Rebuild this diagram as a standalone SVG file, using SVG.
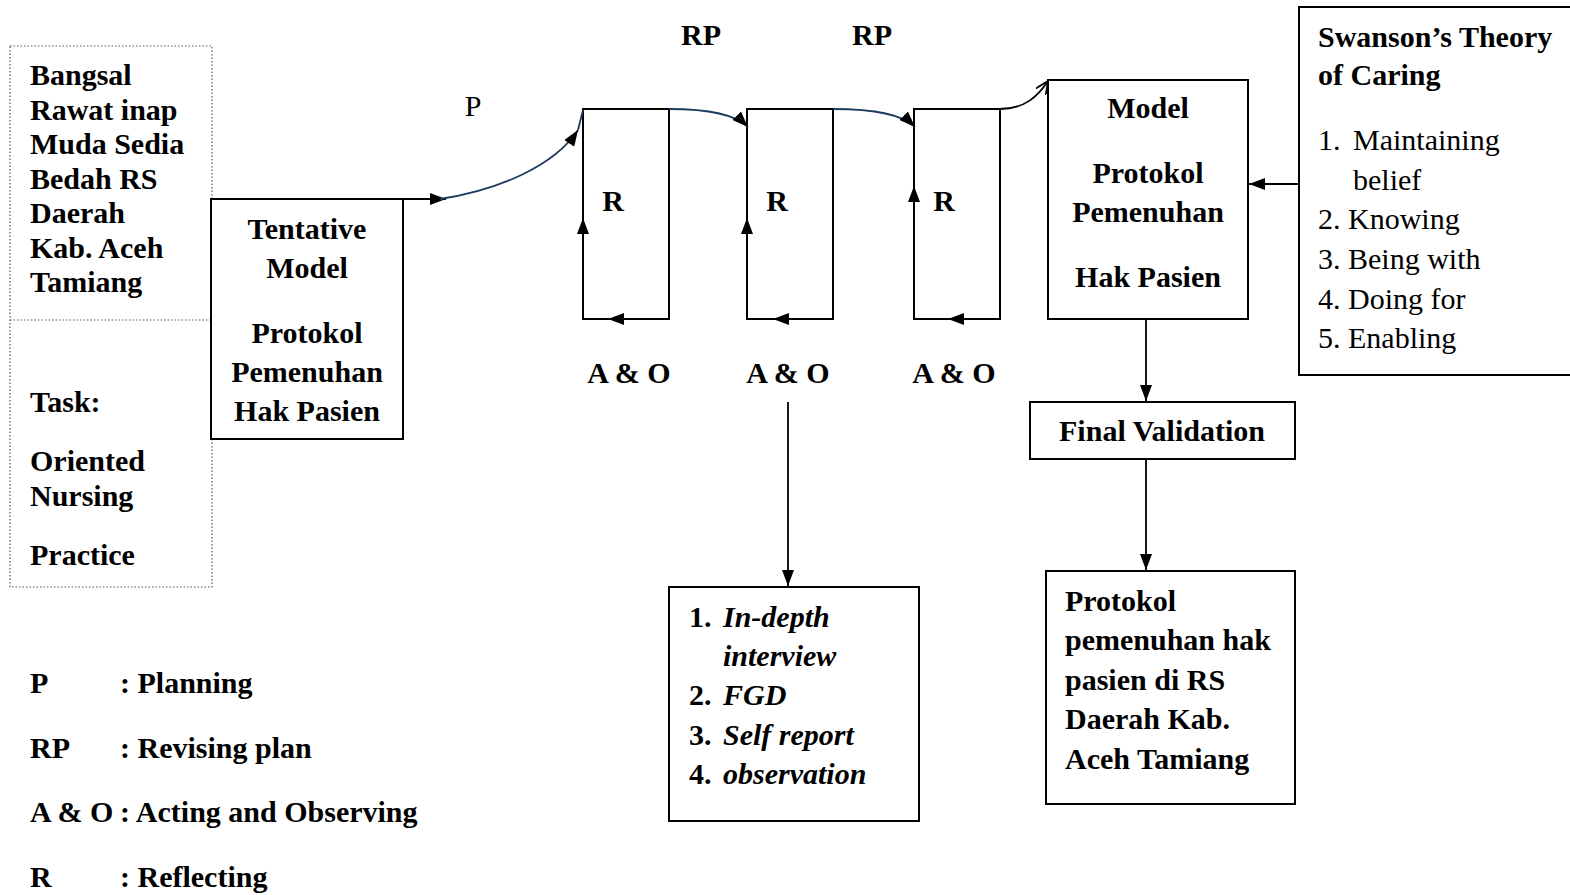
<svg xmlns="http://www.w3.org/2000/svg" width="1570" height="895" viewBox="0 0 1570 895">
<defs>
<style>
text{font-family:"Liberation Serif","Times New Roman",serif;font-size:30px;fill:#000}
.b{font-weight:bold}
.bi{font-weight:bold;font-style:italic}
.m{text-anchor:middle}
.box{fill:#fff;stroke:#000;stroke-width:2}
.dot{fill:none;stroke:#555;stroke-width:1.2;stroke-dasharray:1.5 2}
.ln{fill:none;stroke:#000;stroke-width:1.8}
.cv{fill:none;stroke:#1f3a60;stroke-width:1.8}
</style>
<marker id="fa" viewBox="0 0 16 12" refX="16" refY="6" markerWidth="16" markerHeight="12" markerUnits="userSpaceOnUse" orient="auto">
<path d="M0,0 L16,6 L0,12 Z" fill="#000"/>
</marker>
<marker id="oa" viewBox="0 0 14 12" refX="13" refY="6" markerWidth="14" markerHeight="12" markerUnits="userSpaceOnUse" orient="auto">
<path d="M0,0 L13,6 L0,12" fill="none" stroke="#000" stroke-width="1.8"/>
</marker>
</defs>
<rect width="1570" height="895" fill="#fff"/>

<g id="setting">
<rect class="dot" x="10" y="46" width="202" height="541"/>
<line class="dot" x1="10" y1="320" x2="212" y2="320"/>
<text class="b" x="30" y="85">Bangsal</text>
<text class="b" x="30" y="120">Rawat inap</text>
<text class="b" x="30" y="154">Muda Sedia</text>
<text class="b" x="30" y="189">Bedah RS</text>
<text class="b" x="30" y="223">Daerah</text>
<text class="b" x="30" y="258">Kab. Aceh</text>
<text class="b" x="30" y="292">Tamiang</text>
<text class="b" x="30" y="412">Task:</text>
<text class="b" x="30" y="471">Oriented</text>
<text class="b" x="30" y="506">Nursing</text>
<text class="b" x="30" y="565">Practice</text>
</g>

<g id="tentative">
<rect class="box" x="211" y="199" width="192" height="240"/>
<text class="b m" x="307" y="239">Tentative</text>
<text class="b m" x="307" y="278">Model</text>
<text class="b m" x="307" y="343">Protokol</text>
<text class="b m" x="307" y="382">Pemenuhan</text>
<text class="b m" x="307" y="421">Hak Pasien</text>
</g>

<g id="labels">
<text class="m" x="473" y="116">P</text>
<text class="b m" x="701" y="45">RP</text>
<text class="b m" x="872" y="45">RP</text>
</g>

<g id="cycle1">
<rect class="box" x="583" y="109" width="86" height="210"/>
<text class="b m" x="613" y="211">R</text>
<text class="b m" x="629" y="383">A &amp; O</text>
</g>
<g id="cycle2">
<rect class="box" x="747" y="109" width="86" height="210"/>
<text class="b m" x="777" y="211">R</text>
<text class="b m" x="788" y="383">A &amp; O</text>
</g>
<g id="cycle3">
<rect class="box" x="914" y="109" width="86" height="210"/>
<text class="b m" x="944" y="211">R</text>
<text class="b m" x="954" y="383">A &amp; O</text>
</g>

<g id="model">
<rect class="box" x="1048" y="80" width="200" height="239"/>
<text class="b m" x="1148" y="118">Model</text>
<text class="b m" x="1148" y="183">Protokol</text>
<text class="b m" x="1148" y="222">Pemenuhan</text>
<text class="b m" x="1148" y="287">Hak Pasien</text>
</g>

<g id="swanson">
<rect class="box" x="1299" y="7" width="275" height="368"/>
<text class="b" x="1318" y="47">Swanson’s Theory</text>
<text class="b" x="1318" y="85">of Caring</text>
<text x="1318" y="150">1.</text>
<text x="1353" y="150">Maintaining</text>
<text x="1353" y="190">belief</text>
<text x="1318" y="229">2. Knowing</text>
<text x="1318" y="269">3. Being with</text>
<text x="1318" y="309">4. Doing for</text>
<text x="1318" y="348">5. Enabling</text>
</g>

<g id="final-validation">
<rect class="box" x="1030" y="402" width="265" height="57"/>
<text class="b m" x="1162" y="441">Final Validation</text>
</g>

<g id="protokol">
<rect class="box" x="1046" y="571" width="249" height="233"/>
<text class="b" x="1065" y="611">Protokol</text>
<text class="b" x="1065" y="650">pemenuhan hak</text>
<text class="b" x="1065" y="690">pasien di RS</text>
<text class="b" x="1065" y="729">Daerah Kab.</text>
<text class="b" x="1065" y="769">Aceh Tamiang</text>
</g>

<g id="methods">
<rect class="box" x="669" y="587" width="250" height="234"/>
<text class="b" x="689" y="627">1.</text>
<text class="bi" x="723" y="627">In-depth</text>
<text class="bi" x="723" y="666">interview</text>
<text class="b" x="689" y="705">2.</text>
<text class="bi" x="723" y="705">FGD</text>
<text class="b" x="689" y="745">3.</text>
<text class="bi" x="723" y="745">Self report</text>
<text class="b" x="689" y="784">4.</text>
<text class="bi" x="723" y="784">observation</text>
</g>

<g id="legend">
<text class="b" x="30" y="693">P</text>
<text class="b" x="120" y="693">: Planning</text>
<text class="b" x="30" y="758">RP</text>
<text class="b" x="120" y="758">: Revising plan</text>
<text class="b" x="30" y="822">A &amp; O</text>
<text class="b" x="120" y="822">: Acting and Observing</text>
<text class="b" x="30" y="887">R</text>
<text class="b" x="120" y="887">: Reflecting</text>
</g>

<g id="connectors">
<path class="ln" d="M403,199 L446,199" marker-end="url(#fa)"/>
<path class="cv" d="M440,199 C500,190 555,165 578,130" marker-end="url(#fa)"/>
<path class="cv" d="M578,130 L583,110"/>
<path class="cv" d="M669,109 C700,109 733,112 748,127" marker-end="url(#fa)"/>
<path class="cv" d="M833,109 C866,109 900,112 915,127" marker-end="url(#fa)"/>
<path class="ln" d="M1000,109 C1025,109 1038,96 1048,81" marker-end="url(#oa)"/>
<path class="ln" d="M1299,184 L1249,184" marker-end="url(#fa)"/>
<path class="ln" d="M1146,319 L1146,401" marker-end="url(#fa)"/>
<path class="ln" d="M1146,459 L1146,570" marker-end="url(#fa)"/>
<path class="ln" d="M788,402 L788,586" marker-end="url(#fa)"/>
<path class="ln" d="M583,240 L583,218" marker-end="url(#fa)"/>
<path class="ln" d="M747,240 L747,218" marker-end="url(#fa)"/>
<path class="ln" d="M914,210 L914,186" marker-end="url(#fa)"/>
<path class="ln" d="M630,319 L608,319" marker-end="url(#fa)"/>
<path class="ln" d="M795,319 L773,319" marker-end="url(#fa)"/>
<path class="ln" d="M970,319 L948,319" marker-end="url(#fa)"/>
</g>
</svg>
